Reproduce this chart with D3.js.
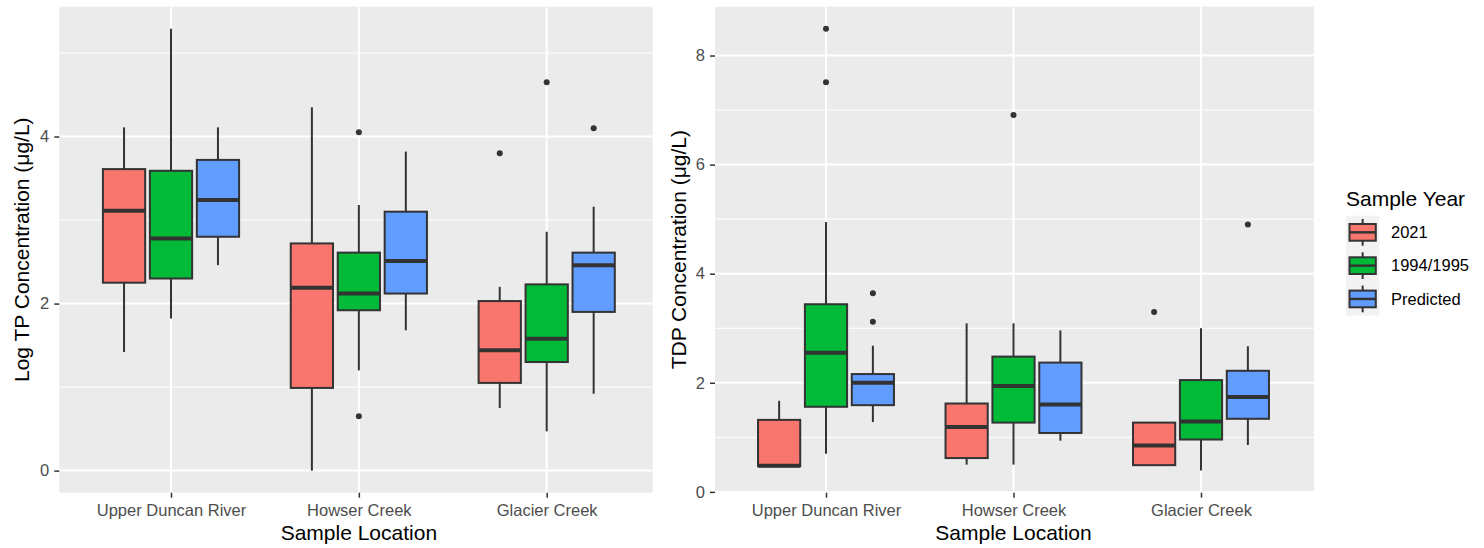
<!DOCTYPE html>
<html>
<head>
<meta charset="utf-8">
<script src="https://cdn.jsdelivr.net/npm/d3@7"></script>
<style>
  html, body { margin: 0; padding: 0; background: #ffffff; }
  svg { display: block; font-family: "Liberation Sans", Arial, sans-serif; }
</style>
</head>
<body>
<svg id="chart" width="1484" height="548"></svg>
<script>
// ---------------- DATA ----------------
const categories = ["Upper Duncan River", "Howser Creek", "Glacier Creek"];
const years = ["2021", "1994/1995", "Predicted"];
const yearColors = ["#F8766D", "#00BA38", "#619CFF"];

// box stats per category: [lower whisker, Q1, median, Q3, upper whisker]
const tp2021 = [[1.42, 2.25, 3.11, 3.61, 4.11], [0.00, 0.99, 2.19, 2.72, 4.35], [0.75, 1.05, 1.44, 2.03, 2.20]];
const tp1994 = [[1.82, 2.30, 2.78, 3.59, 5.29], [1.20, 1.92, 2.12, 2.61, 3.18], [0.47, 1.30, 1.58, 2.23, 2.86]];
const tpPred = [[2.46, 2.80, 3.24, 3.72, 4.11], [1.68, 2.12, 2.51, 3.10, 3.82], [0.92, 1.90, 2.46, 2.61, 3.16]];
const tpOut2021 = [[], [], [3.80]];
const tpOut1994 = [[], [4.05, 0.65], [4.65]];
const tpOutPred = [[], [], [4.10]];

const tdp2021 = [[0.47, 0.47, 0.48, 1.32, 1.67], [0.50, 0.62, 1.19, 1.62, 3.09], [0.49, 0.49, 0.85, 1.27, 1.27]];
const tdp1994 = [[0.70, 1.56, 2.55, 3.44, 4.95], [0.50, 1.27, 1.94, 2.48, 3.09], [0.39, 0.96, 1.29, 2.05, 3.00]];
const tdpPred = [[1.28, 1.59, 2.00, 2.16, 2.68], [0.94, 1.08, 1.60, 2.37, 2.96], [0.86, 1.34, 1.74, 2.22, 2.67]];
const tdpOut2021 = [[], [], [3.30]];
const tdpOut1994 = [[8.49, 7.51], [6.91], []];
const tdpOutPred = [[3.64, 3.12], [], [4.90]];

const tpTicks = [0, 2, 4];
const tpMinor = [1, 3, 5];
const tdpTicks = [0, 2, 4, 6, 8];
const tdpMinor = [1, 3, 5, 7];

// ---------------- LAYOUT ----------------
const svg = d3.select("#chart");
const TOP = 6.7, BOTTOM = 492.7;
const TICK_FONT = 16.5, TITLE_FONT = 21;
const GREY20 = "#333333", GREY30 = "#4D4D4D";

function drawPanel(opts) {
  const { left, right, c0, c2, stats, outs, ticks, minor, ytitle, ytitleX } = opts;
  const g = svg.append("g");

  // y scale from data with ggplot-like 5% expansion
  const allVals = [];
  stats.forEach(s => s.forEach(b => allVals.push(...b)));
  outs.forEach(o => o.forEach(arr => allVals.push(...arr)));
  const [mn, mx] = d3.extent(allVals);
  const pad = (mx - mn) * 0.05;
  const y = d3.scaleLinear().domain([mn - pad, mx + pad]).range([BOTTOM, TOP]);

  const x = d3.scalePoint().domain(categories).range([c0, c2]);
  const step = x.step();
  const slot = step * 0.25;
  const boxW = slot * 0.9;

  // panel background
  g.append("rect").attr("x", left).attr("y", TOP)
    .attr("width", right - left).attr("height", BOTTOM - TOP).attr("fill", "#EBEBEB");

  // minor grid
  g.selectAll(".minor").data(minor).join("line")
    .attr("x1", left).attr("x2", right)
    .attr("y1", d => y(d)).attr("y2", d => y(d))
    .attr("stroke", "#ffffff").attr("stroke-width", 1);
  // major grid
  g.selectAll(".major").data(ticks).join("line")
    .attr("x1", left).attr("x2", right)
    .attr("y1", d => y(d)).attr("y2", d => y(d))
    .attr("stroke", "#ffffff").attr("stroke-width", 2);
  g.selectAll(".vgrid").data(categories).join("line")
    .attr("x1", d => x(d)).attr("x2", d => x(d))
    .attr("y1", TOP).attr("y2", BOTTOM)
    .attr("stroke", "#ffffff").attr("stroke-width", 2);

  // boxes
  stats.forEach((yearStats, yi) => {
    yearStats.forEach((b, ci) => {
      const cx = x(categories[ci]) + (yi - 1) * slot;
      const [lo, q1, med, q3, hi] = b;
      const bg = g.append("g");
      bg.append("line").attr("x1", cx).attr("x2", cx).attr("y1", y(hi)).attr("y2", y(q3))
        .attr("stroke", GREY20).attr("stroke-width", 2);
      bg.append("line").attr("x1", cx).attr("x2", cx).attr("y1", y(q1)).attr("y2", y(lo))
        .attr("stroke", GREY20).attr("stroke-width", 2);
      bg.append("rect").attr("x", cx - boxW / 2).attr("width", boxW)
        .attr("y", y(q3)).attr("height", Math.max(0.5, y(q1) - y(q3)))
        .attr("fill", yearColors[yi]).attr("stroke", GREY20).attr("stroke-width", 2);
      bg.append("line").attr("x1", cx - boxW / 2).attr("x2", cx + boxW / 2)
        .attr("y1", y(med)).attr("y2", y(med))
        .attr("stroke", GREY20).attr("stroke-width", 4);
      outs[yi][ci].forEach(v => {
        bg.append("circle").attr("cx", cx).attr("cy", y(v)).attr("r", 3).attr("fill", GREY20);
      });
    });
  });

  // y axis
  const ya = g.append("g").attr("transform", `translate(${left},0)`)
    .call(d3.axisLeft(y).tickValues(ticks).tickFormat(d3.format("d")).tickSize(5).tickPadding(5));
  ya.select(".domain").remove();
  ya.selectAll(".tick line").attr("stroke", GREY20).attr("stroke-width", 1.5);
  ya.selectAll(".tick text").attr("fill", GREY30).attr("font-size", TICK_FONT)
    .attr("font-family", "Liberation Sans, Arial, sans-serif");

  // x axis
  const xa = g.append("g").attr("transform", `translate(0,${BOTTOM})`)
    .call(d3.axisBottom(x).tickSize(5).tickPadding(7));
  xa.select(".domain").remove();
  xa.selectAll(".tick line").attr("stroke", GREY20).attr("stroke-width", 1.5);
  xa.selectAll(".tick text").attr("fill", GREY30).attr("font-size", TICK_FONT)
    .attr("font-family", "Liberation Sans, Arial, sans-serif");

  // titles
  g.append("text").attr("x", x(categories[1])).attr("y", 540)
    .attr("text-anchor", "middle").attr("font-size", TITLE_FONT).attr("fill", "#000")
    .text("Sample Location");
  g.append("text")
    .attr("transform", `translate(${ytitleX},${(TOP + BOTTOM) / 2}) rotate(-90)`)
    .attr("text-anchor", "middle").attr("font-size", TITLE_FONT).attr("fill", "#000")
    .text(ytitle);
}

drawPanel({
  left: 59.3, right: 652.7, c0: 171, c2: 546.7,
  stats: [tp2021, tp1994, tpPred], outs: [tpOut2021, tpOut1994, tpOutPred],
  ticks: tpTicks, minor: tpMinor,
  ytitle: "Log TP Concentration (\u03bcg/L)", ytitleX: 29
});
drawPanel({
  left: 715, right: 1314, c0: 826, c2: 1201,
  stats: [tdp2021, tdp1994, tdpPred], outs: [tdpOut2021, tdpOut1994, tdpOutPred],
  ticks: tdpTicks, minor: tdpMinor,
  ytitle: "TDP Concentration (\u03bcg/L)", ytitleX: 685.6
});

// ---------------- LEGEND ----------------
const lg = svg.append("g");
const LX = 1346, LY = 215.7, KEY = 33.3;
lg.append("text").attr("x", LX).attr("y", 206).attr("font-size", TITLE_FONT).attr("fill", "#000")
  .text("Sample Year");
years.forEach((yr, i) => {
  const ky = LY + i * KEY;
  const k = lg.append("g");
  k.append("rect").attr("x", LX).attr("y", ky).attr("width", KEY).attr("height", KEY).attr("fill", "#F2F2F2");
  const cx = LX + KEY / 2;
  k.append("line").attr("x1", cx).attr("x2", cx).attr("y1", ky + 3.3).attr("y2", ky + KEY - 3.3)
    .attr("stroke", GREY20).attr("stroke-width", 2);
  k.append("rect").attr("x", LX + 3.5).attr("y", ky + 8.3).attr("width", KEY - 7).attr("height", KEY - 16.6)
    .attr("fill", yearColors[i]).attr("stroke", GREY20).attr("stroke-width", 2);
  k.append("line").attr("x1", LX + 3.5).attr("x2", LX + KEY - 3.5).attr("y1", ky + KEY / 2).attr("y2", ky + KEY / 2)
    .attr("stroke", GREY20).attr("stroke-width", 2.5);
  k.append("text").attr("x", 1391).attr("y", ky + KEY / 2).attr("dy", "0.35em")
    .attr("font-size", TICK_FONT).attr("fill", "#000").text(yr);
});
</script>
</body>
</html>
